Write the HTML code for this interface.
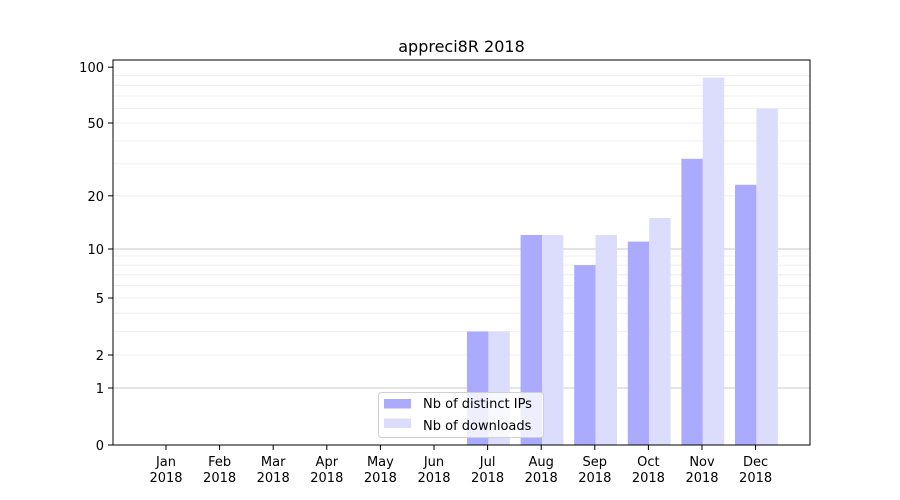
<!DOCTYPE html>
<html><head><style>body{margin:0;background:#fff}svg{display:block;font-family:"DejaVu Sans","Liberation Sans",sans-serif}</style></head>
<body>
<svg width="900" height="500" viewBox="0 0 900 500">
<rect width="900" height="500" fill="#fff"/>
<g stroke="#ebebeb" stroke-width="0.8">
<line x1="113" x2="810" y1="331.5" y2="331.5"/><line x1="113" x2="810" y1="313.2" y2="313.2"/>
<line x1="113" x2="810" y1="298" y2="298"/>
<line x1="113" x2="810" y1="285.7" y2="285.7"/><line x1="113" x2="810" y1="274.8" y2="274.8"/>
<line x1="113" x2="810" y1="265.1" y2="265.1"/><line x1="113" x2="810" y1="256" y2="256"/>
<line x1="113" x2="810" y1="195.8" y2="195.8"/>
<line x1="113" x2="810" y1="163.9" y2="163.9"/><line x1="113" x2="810" y1="141" y2="141"/>
<line x1="113" x2="810" y1="123" y2="123"/><line x1="113" x2="810" y1="108.5" y2="108.5"/>
<line x1="113" x2="810" y1="96" y2="96"/><line x1="113" x2="810" y1="85.3" y2="85.3"/>
<line x1="113" x2="810" y1="75.7" y2="75.7"/>
<line x1="113" x2="810" y1="355" y2="355"/>
</g>
<g stroke="#c8c8c8" stroke-width="1">
<line x1="113" x2="810" y1="388" y2="388"/><line x1="113" x2="810" y1="249" y2="249"/>
</g>
<g fill="#aaaaff">
<rect x="467" y="331.5" width="21.4" height="113.5"/>
<rect x="520.6" y="235" width="21.4" height="210"/>
<rect x="574.2" y="265.1" width="21.4" height="179.9"/>
<rect x="627.8" y="241.6" width="21.4" height="203.4"/>
<rect x="681.4" y="158.8" width="21.4" height="286.2"/>
<rect x="735" y="184.8" width="21.4" height="260.2"/>
</g>
<g fill="#dcdcfc">
<rect x="488.4" y="331.5" width="21.4" height="113.5"/>
<rect x="542" y="235" width="21.4" height="210"/>
<rect x="595.6" y="235" width="21.4" height="210"/>
<rect x="649.2" y="218" width="21.4" height="227"/>
<rect x="702.8" y="77.6" width="21.4" height="367.4"/>
<rect x="756.4" y="108.5" width="21.4" height="336.5"/>
</g>
<rect x="113" y="60" width="697" height="385" fill="none" stroke="#000" stroke-width="1"/>
<g stroke="#000" stroke-width="1">
<line x1="108" x2="113" y1="445" y2="445"/><line x1="108" x2="113" y1="388" y2="388"/>
<line x1="108" x2="113" y1="355" y2="355"/><line x1="108" x2="113" y1="298" y2="298"/>
<line x1="108" x2="113" y1="249" y2="249"/><line x1="108" x2="113" y1="195.8" y2="195.8"/>
<line x1="108" x2="113" y1="123" y2="123"/><line x1="108" x2="113" y1="67.2" y2="67.2"/>
</g>
<g font-size="13" text-anchor="end" fill="#000">
<text x="104" y="450">0</text><text x="104" y="393">1</text><text x="104" y="360">2</text>
<text x="104" y="303">5</text><text x="104" y="254">10</text><text x="104" y="201">20</text>
<text x="104" y="128">50</text><text x="104" y="72">100</text>
</g>
<g font-size="13" text-anchor="middle" fill="#000" stroke="none">
<g stroke="#000"><line x1="166" x2="166" y1="445" y2="450"/><line x1="219.6" x2="219.6" y1="445" y2="450"/><line x1="273.2" x2="273.2" y1="445" y2="450"/><line x1="326.8" x2="326.8" y1="445" y2="450"/><line x1="380.4" x2="380.4" y1="445" y2="450"/><line x1="434" x2="434" y1="445" y2="450"/><line x1="487.6" x2="487.6" y1="445" y2="450"/><line x1="541.2" x2="541.2" y1="445" y2="450"/><line x1="594.8" x2="594.8" y1="445" y2="450"/><line x1="648.4" x2="648.4" y1="445" y2="450"/><line x1="702" x2="702" y1="445" y2="450"/><line x1="755.6" x2="755.6" y1="445" y2="450"/></g>
<text x="166" y="466">Jan</text><text x="166" y="482">2018</text>
<text x="219.6" y="466">Feb</text><text x="219.6" y="482">2018</text>
<text x="273.2" y="466">Mar</text><text x="273.2" y="482">2018</text>
<text x="326.8" y="466">Apr</text><text x="326.8" y="482">2018</text>
<text x="380.4" y="466">May</text><text x="380.4" y="482">2018</text>
<text x="434" y="466">Jun</text><text x="434" y="482">2018</text>
<text x="487.6" y="466">Jul</text><text x="487.6" y="482">2018</text>
<text x="541.2" y="466">Aug</text><text x="541.2" y="482">2018</text>
<text x="594.8" y="466">Sep</text><text x="594.8" y="482">2018</text>
<text x="648.4" y="466">Oct</text><text x="648.4" y="482">2018</text>
<text x="702" y="466">Nov</text><text x="702" y="482">2018</text>
<text x="755.6" y="466">Dec</text><text x="755.6" y="482">2018</text>
</g>
<text x="461.5" y="52" font-size="16" text-anchor="middle">appreci8R 2018</text>
<rect x="378.5" y="392.5" width="165" height="45" rx="3" fill="#fff" fill-opacity="0.8" stroke="#d0d0d0"/>
<rect x="384" y="399" width="27" height="9.5" fill="#aaaaff"/>
<rect x="384" y="418.5" width="27" height="9.5" fill="#dcdcfc"/>
<text x="423" y="408" font-size="13">Nb of distinct IPs</text>
<text x="423" y="430" font-size="13">Nb of downloads</text>
</svg>
</body></html>
